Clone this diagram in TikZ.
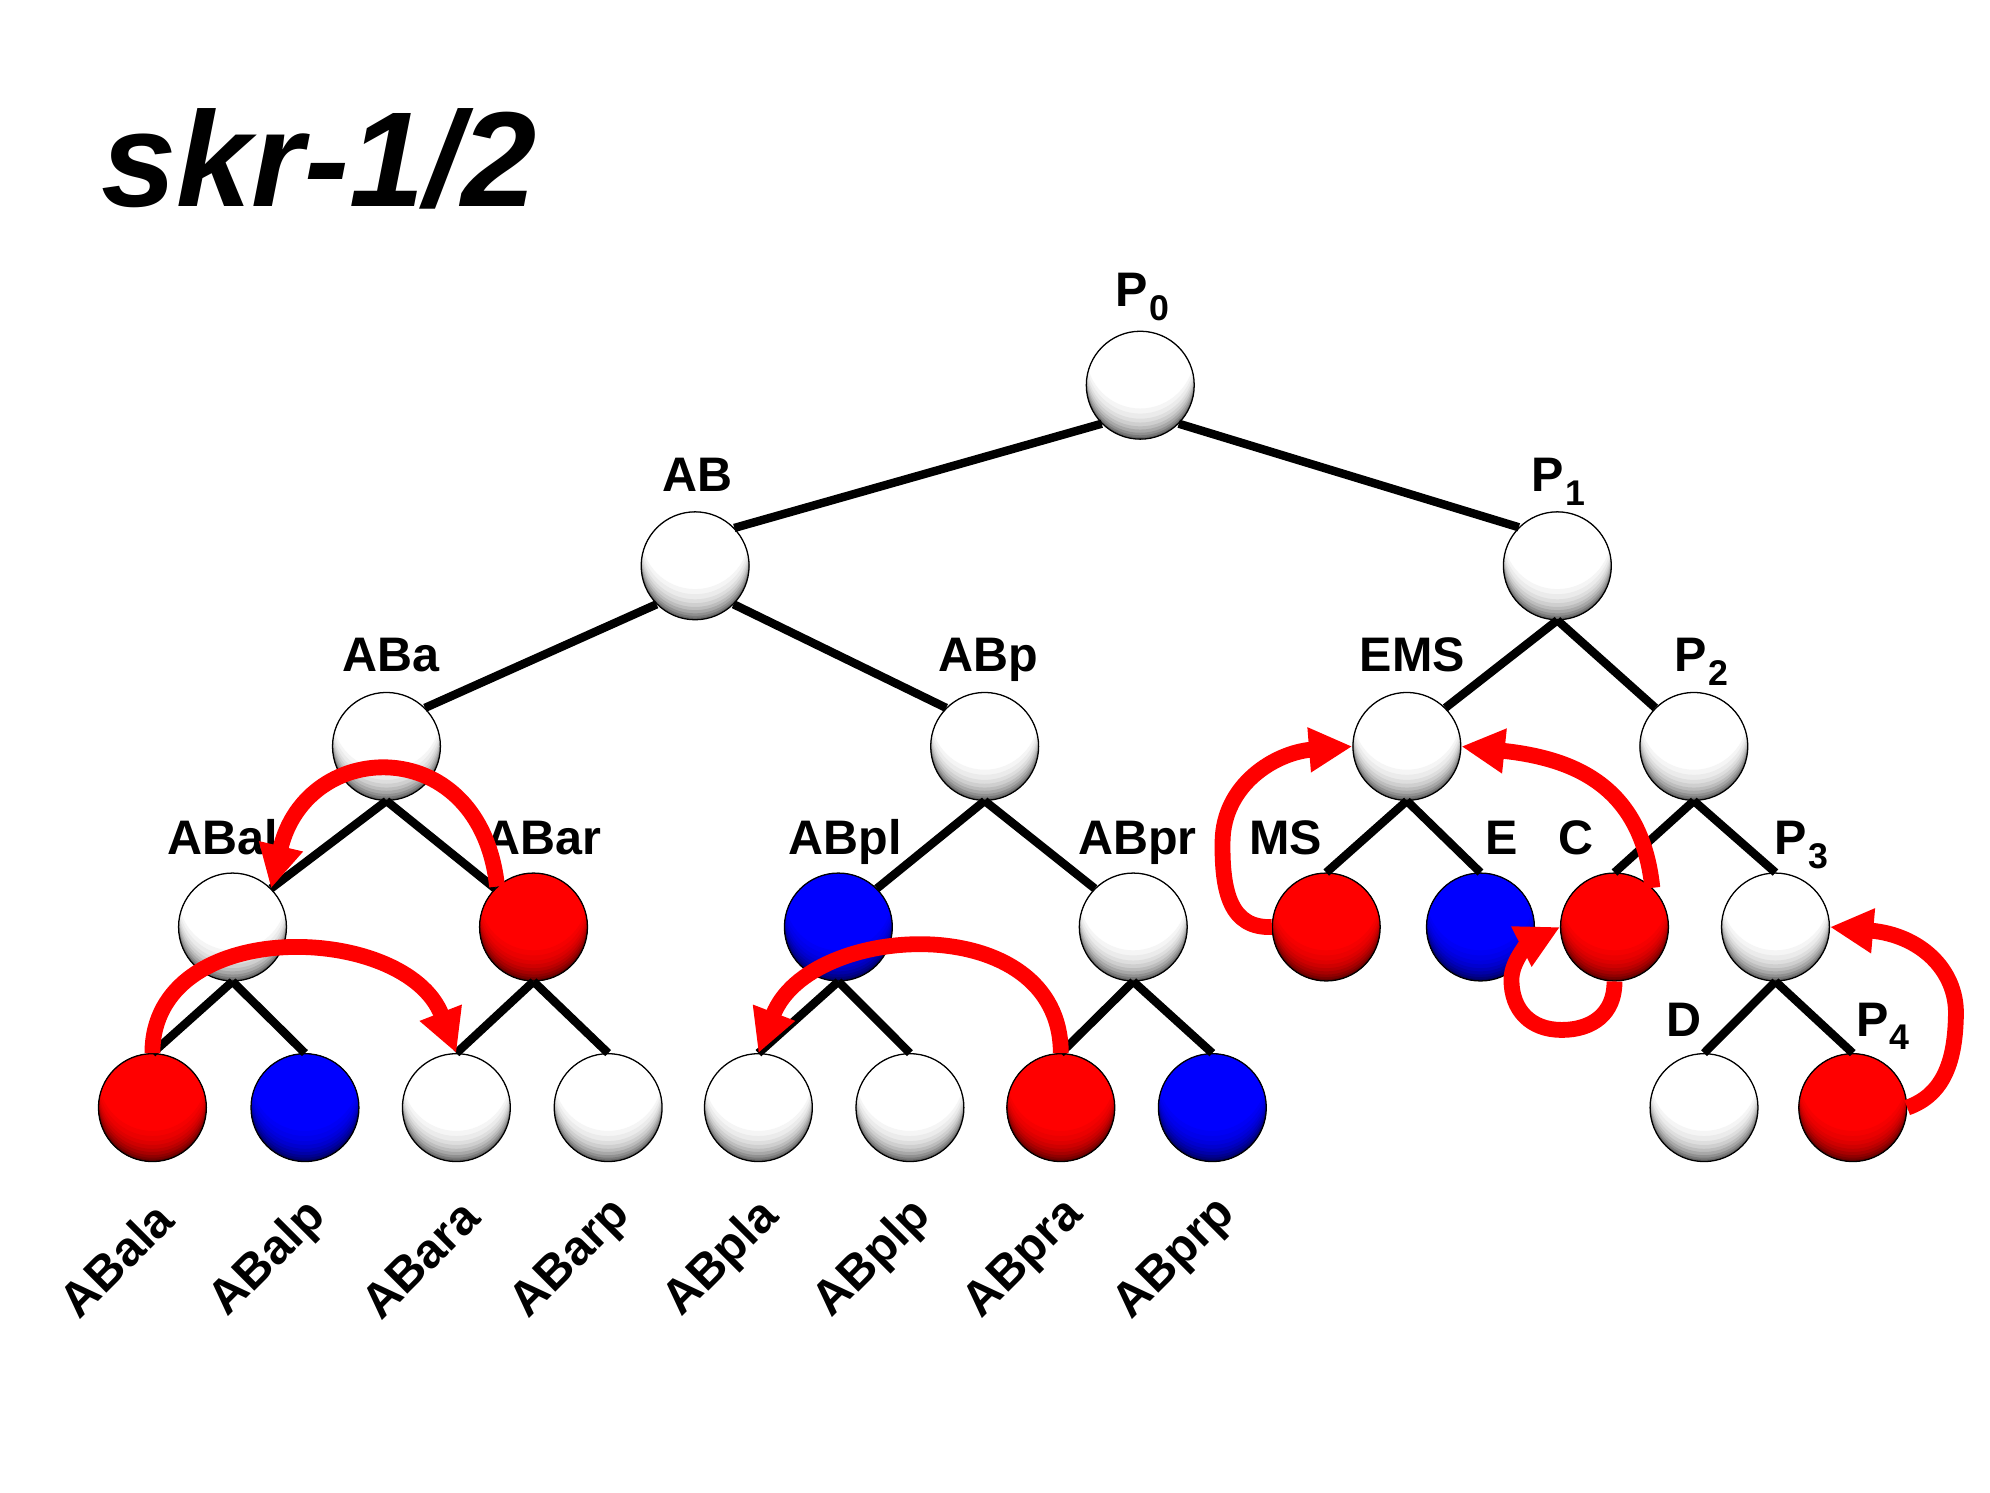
\documentclass[tikz,border=0pt]{standalone}
\usepackage{fontspec}
\setmainfont{Liberation Sans}
\usetikzlibrary{arrows.meta}
\newcommand{\Psb}[1]{P\kern0.6pt\raisebox{-5.25pt}{\fontsize{14pt}{14pt}\selectfont #1}}
\newcommand{\ballsh}[2]{%
  \begin{scope}
    \clip (#1.center) circle[radius=21.15pt];
    \foreach \dd/\kk in {24/4,20/8,16/13,13/19,10/26,7.5/34,5/43,3/52,1.5/60}{
      \pgfmathtruncatemacro{\pp}{100-\kk}
      \fill[#2!\pp!black, even odd rule] (#1.center) circle[radius=21.15pt] ([yshift=\dd*0.5pt]#1.center) circle[radius=21.15pt];
    }
  \end{scope}
  \draw[line width=0.5pt] (#1.center) circle[radius=21.15pt];
}
\begin{document}
\begin{tikzpicture}[x=0.5pt,y=-0.5pt,
  cell/.style={circle, minimum size=42.3pt, inner sep=0pt},
  wc/.style={cell, fill=white},
  rc/.style={cell, fill=red},
  bc/.style={cell, fill=blue},
  edge/.style={line width=3.3pt, black},
  lab/.style={anchor=base, inner sep=0pt, font=\fontsize{19pt}{19pt}\selectfont\bfseries},
  leaflab/.style={rotate=45, inner sep=0pt, font=\fontsize{19pt}{19pt}\selectfont\bfseries},
  redarrow/.style={line width=6.2pt, red, line join=round, -{Triangle[length=17pt,width=16.5pt]}},
]
\useasboundingbox (0,0) rectangle (1560.2,1170.5);
% title
\node[anchor=base west, inner sep=0pt, font=\fontsize{53pt}{53pt}\selectfont\bfseries\itshape] (title) at (79,162) {skr-1/2};
% cells
\node[wc] (P0) at (894,302) {};
\node[wc] (AB) at (545,443.6) {};
\node[wc] (P1) at (1221,443.6) {};
\node[wc] (ABa) at (303,585.2) {};
\node[wc] (ABp) at (772,585.2) {};
\node[wc] (EMS) at (1103,585.2) {};
\node[wc] (P2) at (1328,585.2) {};
\node[wc] (ABal) at (182.3,726.8) {};
\node[rc] (ABar) at (418.3,726.8) {};
\node[bc] (ABpl) at (657.3,726.8) {};
\node[wc] (ABpr) at (888.5,726.8) {};
\node[rc] (MS) at (1039.8,726.8) {};
\node[bc] (E) at (1160.7,726.8) {};
\node[rc] (C) at (1265.8,726.8) {};
\node[wc] (P3) at (1392,726.8) {};
\node[rc] (ABala) at (119.5,868.4) {};
\node[bc] (ABalp) at (239.1,868.4) {};
\node[wc] (ABara) at (357.8,868.4) {};
\node[wc] (ABarp) at (476.8,868.4) {};
\node[wc] (ABpla) at (594.6,868.4) {};
\node[wc] (ABplp) at (713.4,868.4) {};
\node[rc] (ABpra) at (831.7,868.4) {};
\node[bc] (ABprp) at (950.5,868.4) {};
\node[wc] (D) at (1336,868.4) {};
\node[rc] (P4) at (1452.6,868.4) {};
% shading of the balls
\foreach \nn in {P0,AB,P1,ABa,ABp,EMS,P2,ABal,ABpr,P3,ABara,ABarp,ABpla,ABplp,D}{\ballsh{\nn}{white}}
\foreach \nn in {ABar,MS,C,ABala,ABpra,P4}{\ballsh{\nn}{red}}
\foreach \nn in {ABpl,E,ABalp,ABprp}{\ballsh{\nn}{blue}}
% edges
\draw[edge] (P0.225) -- (AB.44);
\draw[edge] (P0.315) -- (P1.135);
\draw[edge] (AB.225) -- (ABa.45);
\draw[edge] (AB.315) -- (ABp.135);
\draw[edge] (P1.south) -- (EMS.45);
\draw[edge] (P1.south) -- (P2.135);
\draw[edge] (ABa.south) -- (ABal.45);
\draw[edge] (ABa.south) -- (ABar.135);
\draw[edge] (ABp.south) -- (ABpl.45);
\draw[edge] (ABp.south) -- (ABpr.135);
\draw[edge] (EMS.south) -- (MS.north);
\draw[edge] (EMS.south) -- (E.north);
\draw[edge] (P2.south) -- (C.north);
\draw[edge] (P2.south) -- (P3.north);
\draw[edge] (ABal.south) -- (ABala.north);
\draw[edge] (ABal.south) -- (ABalp.north);
\draw[edge] (ABar.south) -- (ABara.north);
\draw[edge] (ABar.south) -- (ABarp.north);
\draw[edge] (ABpl.south) -- (ABpla.north);
\draw[edge] (ABpl.south) -- (ABplp.north);
\draw[edge] (ABpr.south) -- (ABpra.north);
\draw[edge] (ABpr.south) -- (ABprp.north);
\draw[edge] (P3.south) -- (D.north);
\draw[edge] (P3.south) -- (P4.north);
% labels
\node[lab] (lP0) at (895.8,240.4) {\Psb{0}};
\node[lab] (lAB) at (547,385.5) {AB};
\node[lab] (lP1) at (1222,385.5) {\Psb{1}};
\node[lab] (lABa) at (306.3,526.6) {ABa};
\node[lab] (lABp) at (775,526.6) {ABp};
\node[lab] (lEMS) at (1107.4,526.6) {EMS};
\node[lab] (lP2) at (1333.7,526.6) {\Psb{2}};
\node[lab] (lABal) at (174.5,670.3) {ABal};
\node[lab] (lABar) at (426,670.3) {ABar};
\node[lab] (lABpl) at (662.9,670.3) {ABpl};
\node[lab] (lABpr) at (891.9,670.3) {ABpr};
\node[lab] (lMS) at (1008,670.3) {MS};
\node[lab] (lE) at (1177,670.3) {E};
\node[lab] (lC) at (1235.5,670.3) {C};
\node[lab] (lP3) at (1412.4,670.3) {\Psb{3}};
\node[lab] (lD) at (1320.4,812.7) {D};
\node[lab] (lP4) at (1476.3,812.7) {\Psb{4}};
% leaf labels
\node[leaflab] (tABala) at (91,987.5) {ABala};
\node[leaflab] (tABalp) at (210.6,987.5) {ABalp};
\node[leaflab] (tABara) at (329.3,987.5) {ABara};
\node[leaflab] (tABarp) at (448.3,987.5) {ABarp};
\node[leaflab] (tABpla) at (566.1,987.5) {ABpla};
\node[leaflab] (tABplp) at (684.9,987.5) {ABplp};
\node[leaflab] (tABpra) at (803.2,987.5) {ABpra};
\node[leaflab] (tABprp) at (922,987.5) {ABprp};
% red arrows
\draw[redarrow] (ABar.132) .. controls (376.9,574.1) and (240.6,577.4) .. (ABal.45);
\draw[redarrow] (ABala.north) .. controls (119.5,717) and (318,723) .. (ABara.north);
\draw[redarrow] (ABpra.north) .. controls (831.7,712) and (634.6,722) .. (ABpla.north);
\draw[redarrow] (MS.west) .. controls (965,728) and (958,700) .. (958.5,660) .. controls (959,615) and (1000,590) .. (EMS.west);
\draw[redarrow] (C.46) .. controls (1287.2,616.5) and (1234.6,594.6) .. (EMS.east);
\draw[redarrow] (C.south) .. controls (1266,795) and (1248,807.5) .. (1224.4,807.5) .. controls (1200,807.5) and (1185,792) .. (1185,768) .. controls (1185,752) and (1201,738) .. (C.west);
\draw[redarrow] (P4.east) .. controls (1525,858) and (1533,830) .. (1533.5,795) .. controls (1534,760) and (1505,733) .. (P3.east);
\end{tikzpicture}
\end{document}
